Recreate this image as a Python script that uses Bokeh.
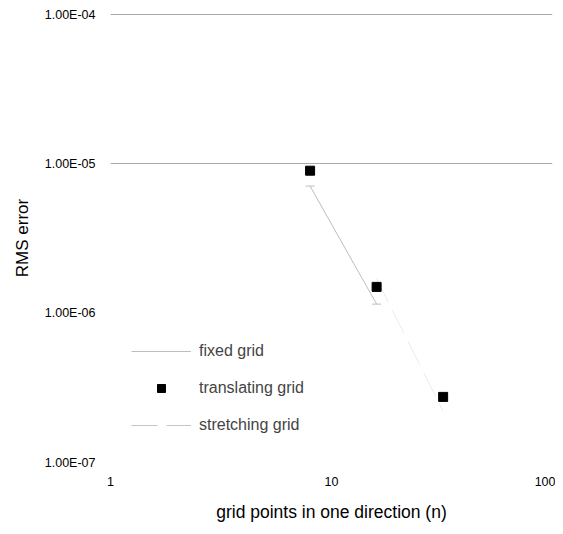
from bokeh.plotting import figure
from bokeh.models import FixedTicker, Legend, LegendItem
from bokeh.embed import file_html
from bokeh.resources import INLINE

# ---- data ----
n_fixed = [8, 16]
err_fixed = [7.1e-6, 1.15e-6]
n_trans = [8, 16, 32]
err_trans = [9.0e-6, 1.5e-6, 2.75e-7]
n_stretch = [16, 32]
err_stretch = [1.7e-6, 2.2e-7]
y_ticks = [1e-7, 1e-6, 1e-5, 1e-4]
y_tick_labels = ["1.00E-07", "1.00E-06", "1.00E-05", "1.00E-04"]
y_grid_ticks = [1e-5, 1e-4]
x_ticks = [1, 10, 100]
x_tick_labels = ["1", "10", "100"]

FONT = "Liberation Sans"

p = figure(width=555, height=526, x_axis_type="log", y_axis_type="log",
           x_range=(1, 100), y_range=(1e-7, 1.016e-4),
           output_backend="svg", toolbar_location=None,
           min_border_left=110, min_border_right=3, min_border_top=13,
           min_border_bottom=64)
p.outline_line_color = None
p.background_fill_color = "white"

# axes
for ax in (p.xaxis[0], p.yaxis[0]):
    ax.axis_line_color = None
    ax.major_tick_line_color = None
    ax.minor_tick_line_color = None
    ax.major_tick_out = 0
    ax.major_tick_in = 0
    ax.minor_tick_out = 0
    ax.minor_tick_in = 0
    ax.major_label_text_font = FONT
    ax.major_label_text_font_size = "12.5px"
    ax.major_label_text_color = "black"
    ax.axis_label_text_font = FONT
    ax.axis_label_text_font_style = "normal"
    ax.axis_label_text_color = "black"

p.yaxis.ticker = FixedTicker(ticks=y_ticks, minor_ticks=[])
p.yaxis.major_label_overrides = dict(zip(y_ticks, y_tick_labels))
p.yaxis.major_label_standoff = 15
p.yaxis.axis_label = "RMS error"
p.yaxis.axis_label_text_font_size = "17px"
p.yaxis.axis_label_standoff = 10

p.xaxis.ticker = FixedTicker(ticks=x_ticks, minor_ticks=[])
p.xaxis.major_label_overrides = dict(zip(x_ticks, x_tick_labels))
p.xaxis.major_label_text_align = "right"
p.xaxis.major_label_standoff = 14
p.xaxis.axis_label = "grid points in one direction (n)"
p.xaxis.axis_label_text_font_size = "17.5px"
p.xaxis.axis_label_standoff = 13

# grids
p.xgrid.grid_line_color = None
p.ygrid.ticker = FixedTicker(ticks=y_grid_ticks, minor_ticks=[])
p.ygrid.grid_line_color = "#a8a8a8"
p.ygrid.grid_line_width = 1

# series
r_fl = p.line(n_fixed, err_fixed, line_color="#bdbdbd", line_width=1)
r_fm = p.scatter(n_fixed, err_fixed, marker="dash", size=9,
                 line_color="#bdbdbd", line_width=1)
r_sl = p.line(n_stretch, err_stretch, line_color="#ececec", line_width=1,
              line_dash="26 9")
# same series, used only for its (more visible) legend swatch
r_sl_leg = p.line(n_stretch, err_stretch, line_color="#c4c4c4", line_width=1,
                  line_dash="26 9", visible=False)
r_tm = p.scatter(n_trans, err_trans, marker="square", size=9,
                 fill_color="black", line_color="black")

legend = Legend(items=[
    LegendItem(label="fixed grid", renderers=[r_fl, r_fm]),
    LegendItem(label="translating grid", renderers=[r_tm]),
    LegendItem(label="stretching grid", renderers=[r_sl_leg]),
], location=(21, 27), border_line_color=None, background_fill_alpha=0,
    glyph_width=60, glyph_height=20, label_height=20, spacing=17,
    padding=0, margin=0, label_standoff=8, click_policy="none",
    label_text_font=FONT, label_text_font_size="16px")
p.add_layout(legend)

open("out.html", "w").write(file_html(p, INLINE))
